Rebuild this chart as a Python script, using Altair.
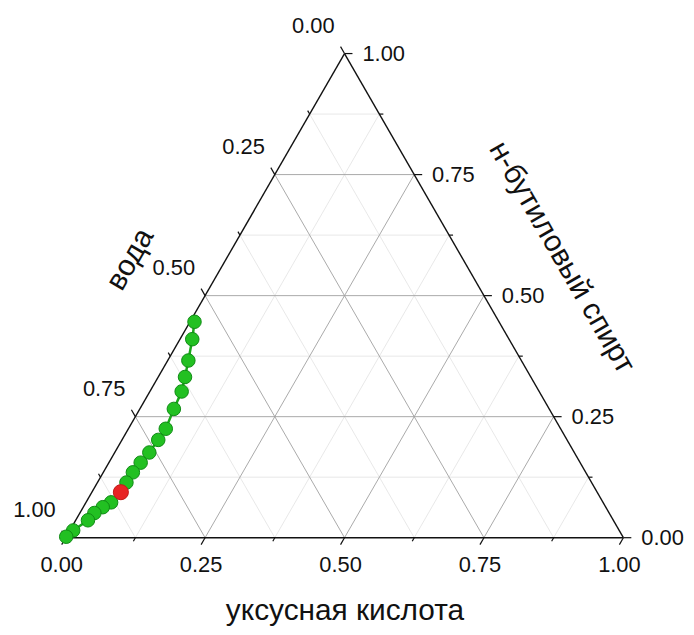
import altair as alt
import pandas as pd

# ---- data (fractions) ----
acetic = [0.008, 0.022, 0.037, 0.048, 0.057, 0.061, 0.067, 0.065, 0.062, 0.057,
          0.053, 0.052, 0.052, 0.045, 0.035, 0.026, 0.022, 0.006, 0.000]
butanol = [0.446, 0.410, 0.366, 0.332, 0.302, 0.266, 0.225, 0.202, 0.176, 0.155,
           0.135, 0.114, 0.094, 0.073, 0.063, 0.051, 0.036, 0.015, 0.002]
red_acetic = [0.052]
red_butanol = [0.094]

major_ticks = [0.0, 0.25, 0.5, 0.75, 1.0]
tick_labels = ["0.00", "0.25", "0.50", "0.75", "1.00"]
minor_ticks = [0.125, 0.375, 0.625, 0.875]
grid_major = [0.25, 0.5, 0.75]
grid_minor = [0.125, 0.375, 0.625, 0.875]

title_bottom = "уксусная кислота"
title_left = "вода"
title_right = "н-бутиловый спирт"

W, H = 561, 487
FONT = "Liberation Sans"

def cart(a, b):
    return a + b / 2.0, b

# ---- frames ----
pts = pd.DataFrame({"a": acetic, "b": butanol})
pts["w"] = 1 - pts["a"] - pts["b"]
pts["X"] = pts["a"] + pts["b"] / 2
pts["Y"] = pts["b"]
pts["order"] = range(len(pts))

red = pd.DataFrame({"a": red_acetic, "b": red_butanol})
red["X"] = red["a"] + red["b"] / 2
red["Y"] = red["b"]

def grid_segments(vals):
    rows = []
    for v in vals:
        x1, y1 = cart(1 - v, v)
        x2, y2 = cart(0, v)
        rows.append((x2, y2, x1, y1))
        x1, y1 = cart(v, 0)
        x2, y2 = cart(v, 1 - v)
        rows.append((x1, y1, x2, y2))
        x1, y1 = cart(1 - v, 0)
        x2, y2 = cart(0, 1 - v)
        rows.append((x1, y1, x2, y2))
    return pd.DataFrame(rows, columns=["x", "y", "x2", "y2"])

edges = pd.DataFrame([
    (*cart(0, 0), *cart(1, 0)),
    (*cart(1, 0), *cart(0, 1)),
    (*cart(0, 1), *cart(0, 0)),
], columns=["x", "y", "x2", "y2"])

def axis_points(vals, side):
    rows = []
    for v in vals:
        if side == "bottom":
            x, y = cart(v, 0)
        elif side == "left":
            x, y = cart(0, 1 - v)
        else:
            x, y = cart(1 - v, v)
        rows.append((x, y))
    return pd.DataFrame(rows, columns=["x", "y"])

xs = alt.Scale(domain=[0, 1], nice=False, zero=False)
ys = alt.Scale(domain=[0, 1], nice=False, zero=False)

def seg_layer(df, color, width):
    return alt.Chart(df).mark_rule(color=color, strokeWidth=width).encode(
        x=alt.X("x:Q", scale=xs, axis=None),
        y=alt.Y("y:Q", scale=ys, axis=None),
        x2="x2:Q", y2="y2:Q")

layers = []
layers.append(seg_layer(grid_segments(grid_minor), "#e2e2e2", 0.8))
layers.append(seg_layer(grid_segments(grid_major), "#a0a0a0", 0.9))
layers.append(seg_layer(edges, "#111111", 1.4))

tick_specs = {
    "bottom": ((-4, 7), (-2, 3.5)),
    "left": ((-4, -7), (-2, -3.5)),
    "right": ((8, 0), (4, 0)),
}
for side, (maj, mnr) in tick_specs.items():
    for vals, off in ((major_ticks, maj), (minor_ticks, mnr)):
        df = axis_points(vals, side)
        layers.append(
            alt.Chart(df).mark_rule(color="#111111", strokeWidth=1.2,
                                    x2Offset=off[0], y2Offset=off[1]).encode(
                x=alt.X("x:Q", scale=xs, axis=None),
                y=alt.Y("y:Q", scale=ys, axis=None),
                x2="x:Q", y2="y:Q"))

label_specs = {
    "bottom": dict(align="center", dx=-4, dy=27),
    "left": dict(align="right", dx=-10, dy=-28),
    "right": dict(align="left", dx=18, dy=0),
}
for side, kw in label_specs.items():
    df = axis_points(major_ticks, side)
    df["label"] = tick_labels
    layers.append(
        alt.Chart(df).mark_text(font=FONT, fontSize=22, color="#111111",
                                baseline="middle", **kw).encode(
            x=alt.X("x:Q", scale=xs, axis=None),
            y=alt.Y("y:Q", scale=ys, axis=None),
            text="label:N"))

layers.append(
    alt.Chart(pts).mark_line(color="#1aa81a", strokeWidth=2.5).encode(
        x=alt.X("X:Q", scale=xs, axis=None),
        y=alt.Y("Y:Q", scale=ys, axis=None),
        order="order:Q"))
layers.append(
    alt.Chart(pts).mark_point(filled=True, fill="#22c022", stroke="#0f8a14",
                              strokeWidth=1, size=185, opacity=1).encode(
        x=alt.X("X:Q", scale=xs, axis=None),
        y=alt.Y("Y:Q", scale=ys, axis=None)))
layers.append(
    alt.Chart(red).mark_point(filled=True, fill="#e82424", stroke="#c41818",
                              strokeWidth=1, size=230, opacity=1).encode(
        x=alt.X("X:Q", scale=xs, axis=None),
        y=alt.Y("Y:Q", scale=ys, axis=None)))

layers.append(
    alt.Chart(pd.DataFrame({"t": [title_bottom]})).mark_text(
        font=FONT, fontSize=30, color="#111111",
        baseline="alphabetic", align="center").encode(
        x=alt.value(281), y=alt.value(570), text="t:N"))
layers.append(
    alt.Chart(pd.DataFrame({"t": [title_left]})).mark_text(
        font=FONT, fontSize=30, color="#111111", baseline="middle",
        align="center", angle=300).encode(
        x=alt.value(65), y=alt.value(207), text="t:N"))
layers.append(
    alt.Chart(pd.DataFrame({"t": [title_right]})).mark_text(
        font=FONT, fontSize=30, color="#111111", baseline="middle",
        align="center", angle=60).encode(
        x=alt.value(499), y=alt.value(205), text="t:N"))

chart = alt.layer(*layers).properties(
    width=W, height=H,
    autosize=alt.AutoSizeParams(type="none"),
    padding={"left": 58, "top": 44, "right": 63, "bottom": 88},
).configure_view(stroke=None)

chart.save("out.html", embed_options={"renderer": "svg", "actions": False})
